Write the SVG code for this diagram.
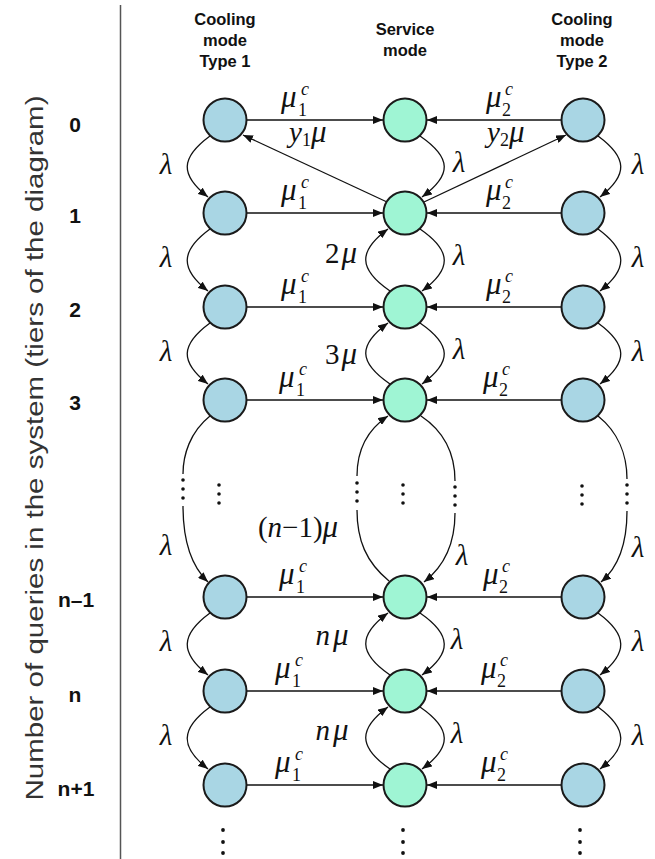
<svg xmlns="http://www.w3.org/2000/svg" width="655" height="859" viewBox="0 0 655 859">
<style>
.hdr{font-family:"Liberation Sans",Arial,sans-serif;font-weight:bold;font-size:16.5px;text-anchor:middle;fill:#111}
.row{font-family:"Liberation Sans",Arial,sans-serif;font-weight:bold;font-size:21px;text-anchor:middle;fill:#111}
.ax{font-family:"Liberation Sans Narrow","Liberation Sans",Arial,sans-serif;font-size:23px;fill:#333}
.g{font-family:"Liberation Serif","Times New Roman",serif;font-size:29px;fill:#111}
.gi{font-family:"Liberation Serif","Times New Roman",serif;font-size:29px;font-style:italic;fill:#111}
.mu{font-style:italic;font-size:31px}
.sub{font-size:18px;font-style:normal}
.sup{font-size:18px;font-style:italic}
.nc{fill:#a9d6e4;stroke:#1a1a1a;stroke-width:2}
.nm{fill:#9ff5d4;stroke:#1a1a1a;stroke-width:2}
.e{fill:none;stroke:#111;stroke-width:1.3}
.dot{fill:#111}
</style>
<defs>
<marker id="ah" viewBox="0 0 10 8" refX="10" refY="4" markerWidth="10" markerHeight="8" markerUnits="userSpaceOnUse" orient="auto">
<path d="M0,0 L10,4 L0,8 z" fill="#111"/>
</marker>
</defs>

<line x1="120.5" y1="5" x2="120.5" y2="859" stroke="#555" stroke-width="1.5"/>
<text class="ax" transform="translate(43,448) rotate(-90)" text-anchor="middle" textLength="705" lengthAdjust="spacingAndGlyphs">Number of queries in the system (tiers of the diagram)</text>

<g id="headers">
<text class="hdr" x="225" y="25">Cooling</text>
<text class="hdr" x="225" y="46">mode</text>
<text class="hdr" x="225" y="67">Type 1</text>
<text class="hdr" x="405" y="35">Service</text>
<text class="hdr" x="405" y="56">mode</text>
<text class="hdr" x="582" y="25">Cooling</text>
<text class="hdr" x="582" y="46">mode</text>
<text class="hdr" x="582" y="67">Type 2</text>
</g>

<g id="row-labels">
<text class="row" x="75" y="132">0</text>
<text class="row" x="75" y="223">1</text>
<text class="row" x="75" y="317">2</text>
<text class="row" x="75" y="410">3</text>
<text class="row" x="76" y="607">n–1</text>
<text class="row" x="75" y="702">n</text>
<text class="row" x="76" y="796">n+1</text>
</g>

<g id="connectors">
<path class="e" marker-end="url(#ah)" d="M247,120 H383"/>
<path class="e" marker-end="url(#ah)" d="M561,120 H427"/>
<path class="e" marker-end="url(#ah)" d="M247,213 H383"/>
<path class="e" marker-end="url(#ah)" d="M561,213 H427"/>
<path class="e" marker-end="url(#ah)" d="M247,307 H383"/>
<path class="e" marker-end="url(#ah)" d="M561,307 H427"/>
<path class="e" marker-end="url(#ah)" d="M247,400 H383"/>
<path class="e" marker-end="url(#ah)" d="M561,400 H427"/>
<path class="e" marker-end="url(#ah)" d="M247,597 H383"/>
<path class="e" marker-end="url(#ah)" d="M561,597 H427"/>
<path class="e" marker-end="url(#ah)" d="M247,691 H383"/>
<path class="e" marker-end="url(#ah)" d="M561,691 H427"/>
<path class="e" marker-end="url(#ah)" d="M247,785 H383"/>
<path class="e" marker-end="url(#ah)" d="M561,785 H427"/>
<path class="e" marker-end="url(#ah)" d="M387,202 L243,135"/>
<path class="e" marker-end="url(#ah)" d="M424,202 L566,135"/>
<path class="e" marker-end="url(#ah)" d="M210,136 C180,158 180,175 208,197"/>
<path class="e" marker-end="url(#ah)" d="M210,229 C180,251 180,269 208,291"/>
<path class="e" marker-end="url(#ah)" d="M210,323 C180,345 180,362 208,384"/>
<path class="e" marker-end="url(#ah)" d="M210,613 C180,635 180,653 208,675"/>
<path class="e" marker-end="url(#ah)" d="M210,707 C180,729 180,747 208,769"/>
<path class="e" d="M210,416 C190,432 183,455 183,474"/>
<path class="e" marker-end="url(#ah)" d="M183,506 C183,535 188,563 208,582"/>
<path class="e" marker-end="url(#ah)" d="M598,136 C628,158 628,175 600,197"/>
<path class="e" marker-end="url(#ah)" d="M598,229 C628,251 628,269 600,291"/>
<path class="e" marker-end="url(#ah)" d="M598,323 C628,345 628,362 600,384"/>
<path class="e" marker-end="url(#ah)" d="M598,613 C628,635 628,653 600,675"/>
<path class="e" marker-end="url(#ah)" d="M598,707 C628,729 628,747 600,769"/>
<path class="e" d="M598,416 C618,432 627,455 627,479"/>
<path class="e" marker-end="url(#ah)" d="M627,511 C627,540 620,566 601,582"/>
<path class="e" marker-end="url(#ah)" d="M420,136 C452,158 452,175 422,197"/>
<path class="e" marker-end="url(#ah)" d="M420,229 C452,251 452,269 422,291"/>
<path class="e" marker-end="url(#ah)" d="M420,323 C452,345 452,362 422,384"/>
<path class="e" marker-end="url(#ah)" d="M420,613 C452,635 452,653 422,675"/>
<path class="e" marker-end="url(#ah)" d="M420,707 C452,729 452,747 422,769"/>
<path class="e" d="M421,416 C445,432 455,455 455,481"/>
<path class="e" marker-end="url(#ah)" d="M455,513 C455,540 446,565 424,582"/>
<path class="e" marker-end="url(#ah)" d="M390,291 C358,269 358,251 388,229"/>
<path class="e" marker-end="url(#ah)" d="M390,384 C358,362 358,345 388,323"/>
<path class="e" marker-end="url(#ah)" d="M390,675 C358,653 358,635 388,613"/>
<path class="e" marker-end="url(#ah)" d="M390,769 C358,747 358,729 388,707"/>
<path class="e" d="M389,581 C366,562 357,540 357,510"/>
<path class="e" marker-end="url(#ah)" d="M357,476 C357,450 367,430 388,416"/>
</g>

<g id="dots">
<circle class="dot" cx="183" cy="480" r="1.8"/><circle class="dot" cx="183" cy="489" r="1.8"/><circle class="dot" cx="183" cy="498" r="1.8"/>
<circle class="dot" cx="219" cy="485" r="1.8"/><circle class="dot" cx="219" cy="494" r="1.8"/><circle class="dot" cx="219" cy="503" r="1.8"/>
<circle class="dot" cx="357" cy="483" r="1.8"/><circle class="dot" cx="357" cy="492" r="1.8"/><circle class="dot" cx="357" cy="501" r="1.8"/>
<circle class="dot" cx="403" cy="485" r="1.8"/><circle class="dot" cx="403" cy="494" r="1.8"/><circle class="dot" cx="403" cy="503" r="1.8"/>
<circle class="dot" cx="455" cy="487" r="1.8"/><circle class="dot" cx="455" cy="496" r="1.8"/><circle class="dot" cx="455" cy="505" r="1.8"/>
<circle class="dot" cx="582" cy="486" r="1.8"/><circle class="dot" cx="582" cy="495" r="1.8"/><circle class="dot" cx="582" cy="504" r="1.8"/>
<circle class="dot" cx="627" cy="485" r="1.8"/><circle class="dot" cx="627" cy="494" r="1.8"/><circle class="dot" cx="627" cy="503" r="1.8"/>
<circle class="dot" cx="223" cy="830" r="1.9"/><circle class="dot" cx="223" cy="842" r="1.9"/><circle class="dot" cx="223" cy="853" r="1.9"/>
<circle class="dot" cx="403" cy="830" r="1.9"/><circle class="dot" cx="403" cy="842" r="1.9"/><circle class="dot" cx="403" cy="853" r="1.9"/>
<circle class="dot" cx="580" cy="830" r="1.9"/><circle class="dot" cx="580" cy="842" r="1.9"/><circle class="dot" cx="580" cy="853" r="1.9"/>
</g>

<g id="nodes">
<g id="L0"><circle class="nc" cx="225" cy="120" r="21.5"/></g>
<g id="S0"><circle class="nm" cx="405" cy="120" r="21.5"/></g>
<g id="R0"><circle class="nc" cx="583" cy="120" r="21.5"/></g>
<g id="L1"><circle class="nc" cx="225" cy="213" r="21.5"/></g>
<g id="S1"><circle class="nm" cx="405" cy="213" r="21.5"/></g>
<g id="R1"><circle class="nc" cx="583" cy="213" r="21.5"/></g>
<g id="L2"><circle class="nc" cx="225" cy="307" r="21.5"/></g>
<g id="S2"><circle class="nm" cx="405" cy="307" r="21.5"/></g>
<g id="R2"><circle class="nc" cx="583" cy="307" r="21.5"/></g>
<g id="L3"><circle class="nc" cx="225" cy="400" r="21.5"/></g>
<g id="S3"><circle class="nm" cx="405" cy="400" r="21.5"/></g>
<g id="R3"><circle class="nc" cx="583" cy="400" r="21.5"/></g>
<g id="Ln-1"><circle class="nc" cx="225" cy="597" r="21.5"/></g>
<g id="Sn-1"><circle class="nm" cx="405" cy="597" r="21.5"/></g>
<g id="Rn-1"><circle class="nc" cx="583" cy="597" r="21.5"/></g>
<g id="Ln"><circle class="nc" cx="225" cy="691" r="21.5"/></g>
<g id="Sn"><circle class="nm" cx="405" cy="691" r="21.5"/></g>
<g id="Rn"><circle class="nc" cx="583" cy="691" r="21.5"/></g>
<g id="Ln+1"><circle class="nc" cx="225" cy="785" r="21.5"/></g>
<g id="Sn+1"><circle class="nm" cx="405" cy="785" r="21.5"/></g>
<g id="Rn+1"><circle class="nc" cx="583" cy="785" r="21.5"/></g>
</g>

<g id="edge-labels">
<text class="g"><tspan class="mu" x="281" y="107">μ</tspan><tspan class="sub" x="298" y="116">1</tspan><tspan class="sup" x="301" y="95">c</tspan></text>
<text class="g"><tspan class="mu" x="486" y="107">μ</tspan><tspan class="sub" x="502" y="116">2</tspan><tspan class="sup" x="505" y="95">c</tspan></text>
<text class="g"><tspan class="mu" x="281" y="200">μ</tspan><tspan class="sub" x="298" y="209">1</tspan><tspan class="sup" x="301" y="188">c</tspan></text>
<text class="g"><tspan class="mu" x="486" y="200">μ</tspan><tspan class="sub" x="502" y="209">2</tspan><tspan class="sup" x="505" y="188">c</tspan></text>
<text class="g"><tspan class="mu" x="281" y="294">μ</tspan><tspan class="sub" x="298" y="303">1</tspan><tspan class="sup" x="301" y="282">c</tspan></text>
<text class="g"><tspan class="mu" x="486" y="294">μ</tspan><tspan class="sub" x="502" y="303">2</tspan><tspan class="sup" x="505" y="282">c</tspan></text>
<text class="g"><tspan class="mu" x="279" y="387">μ</tspan><tspan class="sub" x="296" y="396">1</tspan><tspan class="sup" x="299" y="375">c</tspan></text>
<text class="g"><tspan class="mu" x="483" y="387">μ</tspan><tspan class="sub" x="499" y="396">2</tspan><tspan class="sup" x="502" y="375">c</tspan></text>
<text class="g"><tspan class="mu" x="279" y="584">μ</tspan><tspan class="sub" x="296" y="593">1</tspan><tspan class="sup" x="299" y="572">c</tspan></text>
<text class="g"><tspan class="mu" x="483" y="584">μ</tspan><tspan class="sub" x="499" y="593">2</tspan><tspan class="sup" x="502" y="572">c</tspan></text>
<text class="g"><tspan class="mu" x="275" y="678">μ</tspan><tspan class="sub" x="292" y="687">1</tspan><tspan class="sup" x="295" y="666">c</tspan></text>
<text class="g"><tspan class="mu" x="481" y="678">μ</tspan><tspan class="sub" x="497" y="687">2</tspan><tspan class="sup" x="500" y="666">c</tspan></text>
<text class="g"><tspan class="mu" x="275" y="772">μ</tspan><tspan class="sub" x="292" y="781">1</tspan><tspan class="sup" x="295" y="760">c</tspan></text>
<text class="g"><tspan class="mu" x="481" y="772">μ</tspan><tspan class="sub" x="497" y="781">2</tspan><tspan class="sup" x="500" y="760">c</tspan></text>
<text class="gi" x="289" y="142">y<tspan class="sub" dy="4">1</tspan><tspan class="mu" dy="-4">μ</tspan></text>
<text class="gi" x="487" y="142">y<tspan class="sub" dy="4">2</tspan><tspan class="mu" dy="-4">μ</tspan></text>
<text class="gi" x="166" y="174" text-anchor="middle">λ</text>
<text class="gi" x="166" y="267" text-anchor="middle">λ</text>
<text class="gi" x="166" y="361" text-anchor="middle">λ</text>
<text class="gi" x="166" y="555" text-anchor="middle">λ</text>
<text class="gi" x="166" y="651" text-anchor="middle">λ</text>
<text class="gi" x="166" y="745" text-anchor="middle">λ</text>
<text class="gi" x="638" y="174" text-anchor="middle">λ</text>
<text class="gi" x="638" y="267" text-anchor="middle">λ</text>
<text class="gi" x="638" y="361" text-anchor="middle">λ</text>
<text class="gi" x="638" y="557" text-anchor="middle">λ</text>
<text class="gi" x="638" y="651" text-anchor="middle">λ</text>
<text class="gi" x="638" y="745" text-anchor="middle">λ</text>
<text class="gi" x="459" y="172" text-anchor="middle">λ</text>
<text class="gi" x="459" y="265" text-anchor="middle">λ</text>
<text class="gi" x="459" y="359" text-anchor="middle">λ</text>
<text class="gi" x="462" y="565" text-anchor="middle">λ</text>
<text class="gi" x="457" y="649" text-anchor="middle">λ</text>
<text class="gi" x="457" y="743" text-anchor="middle">λ</text>
<text class="g" x="341" y="263" text-anchor="middle">2<tspan class="mu" dx="2">μ</tspan></text>
<text class="g" x="341" y="364" text-anchor="middle">3<tspan class="mu" dx="2">μ</tspan></text>
<text class="g" x="298" y="537" text-anchor="middle">(<tspan font-style="italic">n</tspan>−1)<tspan class="mu">μ</tspan></text>
<text class="g" x="332" y="645" text-anchor="middle"><tspan font-style="italic">n</tspan><tspan class="mu" dx="3">μ</tspan></text>
<text class="g" x="332" y="740" text-anchor="middle"><tspan font-style="italic">n</tspan><tspan class="mu" dx="3">μ</tspan></text>
</g>
</svg>
